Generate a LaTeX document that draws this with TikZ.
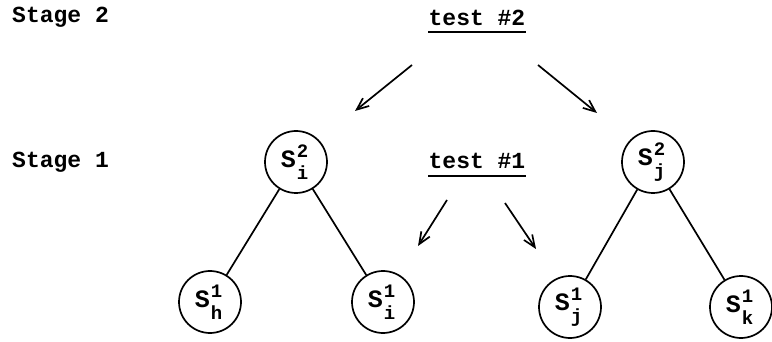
\documentclass[tikz,border=0pt]{standalone}
\usepackage{fontspec}
\setmainfont{Liberation Mono}
\usetikzlibrary{arrows.meta}

\newcommand{\stlabel}[2]{S\kern1pt\rlap{\raisebox{10pt}{\fontsize{19}{19}\selectfont #1}}%
    \raisebox{-12pt}{\fontsize{19}{19}\selectfont #2}\kern3pt}

\tikzset{
    state/.style={draw, circle, line width=1.7pt, minimum size=62pt, inner sep=0pt,
        font=\fontsize{25}{29}\selectfont\bfseries},
    edge/.style={line width=1.7pt},
    move/.style={line width=1.7pt, -{Straight Barb[length=12pt, width=10pt]}}
}

\begin{document}
\begin{tikzpicture}[x=1pt, y=-1pt, font=\fontsize{23}{27}\selectfont\bfseries]
    \useasboundingbox (0, 0) rectangle (772, 342);

    \node[anchor=base west, inner sep=0pt] (stage2) at (12, 23) {Stage 2};
    \node[anchor=base west, inner sep=0pt] (stage1) at (12, 168) {Stage 1};

    \node[anchor=base, inner sep=0pt] (test2) at (477, 26) {test \#2};
    \node[anchor=base, inner sep=0pt] (test1) at (477, 169) {test \#1};
    \draw[edge] ([yshift=-6pt]test2.base west)--([yshift=-6pt]test2.base east);
    \draw[edge] ([yshift=-7pt]test1.base west)--([yshift=-7pt]test1.base east);

    \node[state] (si2) at (296, 162) {\stlabel{2}{i}};
    \node[state] (sj2) at (653, 162) {\stlabel{2}{j}};
    \node[state] (sh1) at (210, 302) {\stlabel{1}{h}};
    \node[state] (si1) at (383, 302) {\stlabel{1}{i}};
    \node[state] (sj1) at (570, 307) {\stlabel{1}{j}};
    \node[state] (sk1) at (741, 307) {\stlabel{1}{k}};

    %\draw (stage2)--(stage1);
    \draw[edge] (si2)--(sh1);
    \draw[edge] (si2)--(si1);
    \draw[edge] (sj2)--(sj1);
    \draw[edge] (sj2)--(sk1);

    \coordinate (t2l) at (412, 65);
    \coordinate (t2le) at (355, 111);
    \coordinate (t2r) at (538, 65);
    \coordinate (t2re) at (597, 113);
    \coordinate (t1l) at (447, 200);
    \coordinate (t1le) at (418, 246);
    \coordinate (t1r) at (505, 203);
    \coordinate (t1re) at (536, 249);

    \draw[move] (t2l)--(t2le);
    \draw[move] (t2r)--(t2re);
    \draw[move] (t1l)--(t1le);
    \draw[move] (t1r)--(t1re);
\end{tikzpicture}
\end{document}
